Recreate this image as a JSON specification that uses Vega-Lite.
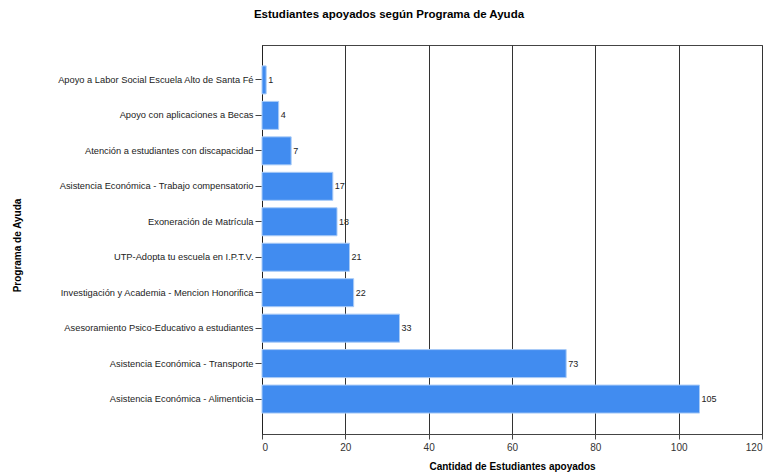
{
  "$schema": "https://vega.github.io/schema/vega-lite/v6.json",
  "width": 500,
  "height": 389,
  "autosize": {"type": "none"},
  "padding": {"left": 262, "top": 45, "right": 5, "bottom": 38},
  "background": "white",
  "config": {
    "view": {"stroke": "#444", "strokeWidth": 1},
    "font": "Liberation Sans"
  },
  "title": {
    "text": "Estudiantes apoyados según Programa de Ayuda",
    "fontSize": 11.5,
    "fontWeight": "bold",
    "color": "#000",
    "anchor": "middle",
    "frame": "group",
    "dx": -123,
    "offset": 25
  },
  "data": {
    "values": [
      {"programa": "Apoyo a Labor Social Escuela Alto de Santa Fé", "cantidad": 1},
      {"programa": "Apoyo con aplicaciones a Becas", "cantidad": 4},
      {"programa": "Atención a estudiantes con discapacidad", "cantidad": 7},
      {"programa": "Asistencia Económica - Trabajo compensatorio", "cantidad": 17},
      {"programa": "Exoneración de Matrícula", "cantidad": 18},
      {"programa": "UTP-Adopta tu escuela en I.P.T.V.", "cantidad": 21},
      {"programa": "Investigación y Academia - Mencion Honorifica", "cantidad": 22},
      {"programa": "Asesoramiento Psico-Educativo a estudiantes", "cantidad": 33},
      {"programa": "Asistencia Económica - Transporte", "cantidad": 73},
      {"programa": "Asistencia Económica - Alimenticia", "cantidad": 105}
    ]
  },
  "encoding": {
    "y": {
      "field": "programa",
      "type": "nominal",
      "sort": null,
      "scale": {"paddingInner": 0.21, "paddingOuter": 0.59},
      "axis": {
        "title": "Programa de Ayuda",
        "titleFontSize": 10,
        "titleFontWeight": "bold",
        "titleColor": "#000",
        "titleX": -240,
        "titleY": 200,
        "labelFontSize": 9.3,
        "labelColor": "#222",
        "labelPadding": 2,
        "labelLimit": 300,
        "tickSize": 7,
        "tickColor": "#444",
        "domainColor": "#222",
        "grid": false
      }
    },
    "x": {
      "field": "cantidad",
      "type": "quantitative",
      "scale": {"domain": [0, 120], "nice": false},
      "axis": {
        "title": "Cantidad de Estudiantes apoyados",
        "titleFontSize": 10,
        "titleFontWeight": "bold",
        "titleColor": "#000",
        "titleY": 27,
        "values": [0, 20, 40, 60, 80, 100, 120],
        "labelFontSize": 10,
        "labelColor": "#333",
        "labelPadding": 3,
        "tickSize": 5,
        "tickColor": "#444",
        "domainColor": "#444",
        "grid": true,
        "gridColor": "#333",
        "gridOpacity": 1
      }
    }
  },
  "layer": [
    {
      "mark": {"type": "bar", "color": "#418CF0", "stroke": "#A9CBF7", "strokeWidth": 1}
    },
    {
      "mark": {"type": "text", "align": "left", "baseline": "middle", "dx": 2, "fontSize": 9, "color": "#222"},
      "encoding": {"text": {"field": "cantidad", "type": "quantitative"}}
    }
  ]
}
